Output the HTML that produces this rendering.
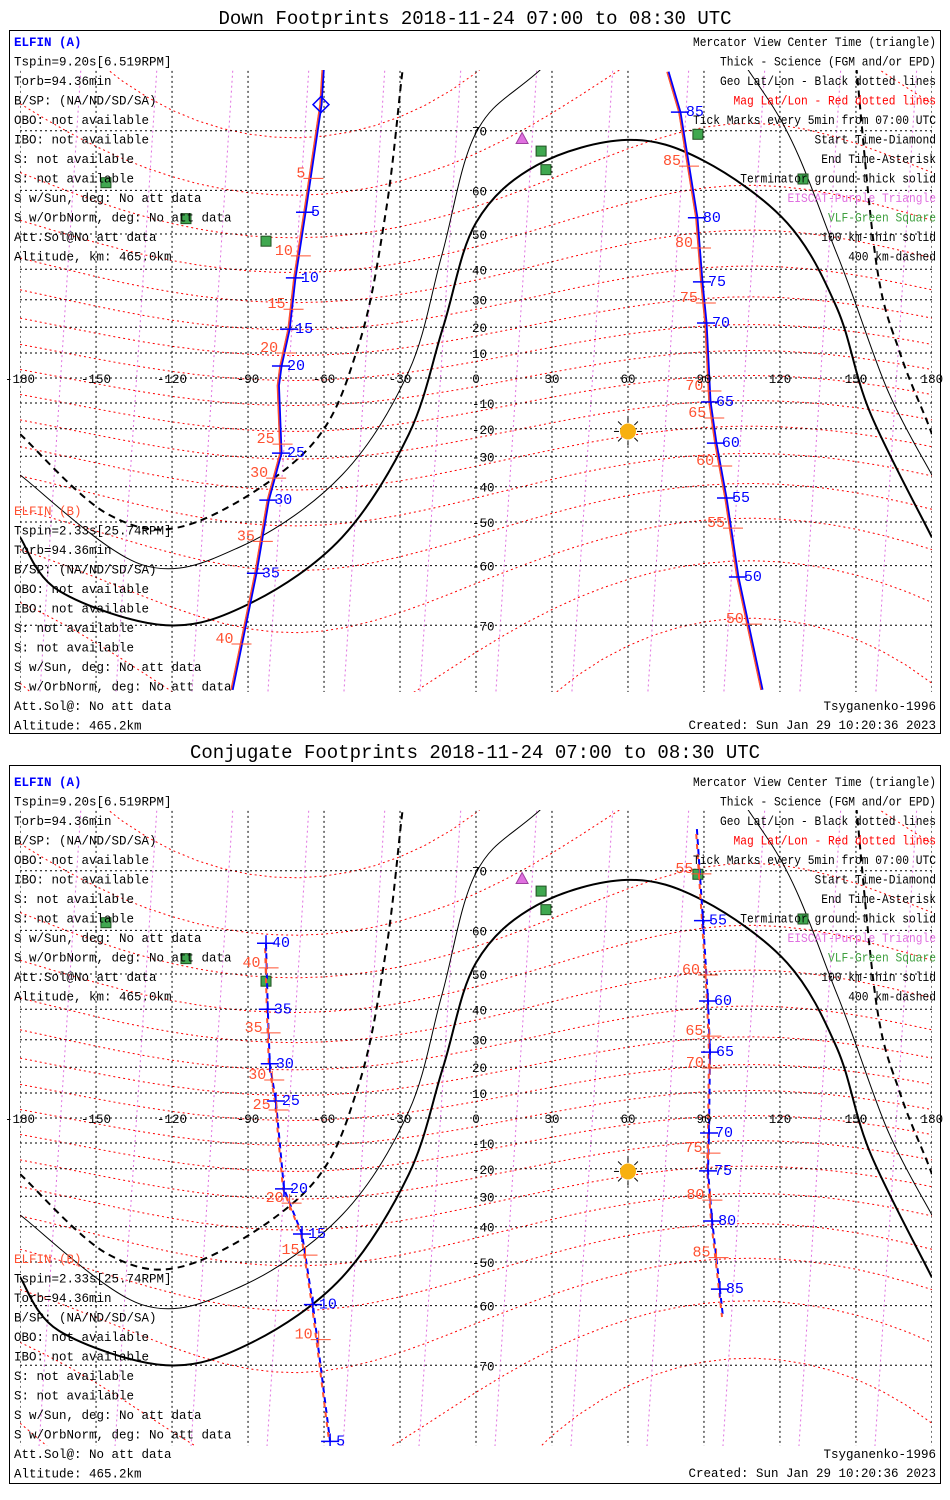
<!DOCTYPE html>
<html><head><meta charset="utf-8"><title>ELFIN Footprints</title>
<style>
html,body{margin:0;padding:0;background:#fff;}
svg{display:block;}
text{font-family:"Liberation Mono",monospace;}
</style></head>
<body>
<svg id="chart" width="950" height="1500" viewBox="0 0 950 1500" xmlns="http://www.w3.org/2000/svg">
<defs>
<clipPath id="mapclip1"><rect x="20" y="70" width="912" height="622"/></clipPath>
<clipPath id="mapclip2"><rect x="20" y="810" width="912" height="636"/></clipPath>
</defs>
<rect x="9.5" y="30.5" width="931" height="703" fill="none" stroke="#000"/>
<rect x="9.5" y="765.5" width="931" height="718" fill="none" stroke="#000"/>
<text x="475" y="24" font-size="19" text-anchor="middle">Down Footprints 2018-11-24 07:00 to 08:30 UTC</text>
<text x="475" y="758" font-size="19" text-anchor="middle">Conjugate Footprints 2018-11-24 07:00 to 08:30 UTC</text>
</svg>
<script>
// ---- data ----
const lonTicks=[-180,-150,-120,-90,-60,-30,0,30,60,90,120,150,180];
const latTicks=[70,60,50,40,30,20,10,-10,-20,-30,-40,-50,-60,-70];
const magLats=[-80,-70,-60,-50,-40,-30,-20,-10,0,10,20,30,40,50,60,70,80];
const magLons=[-165,-135,-105,-75,-45,-15,15,45,75,105,135,165];
// terminator ground (thick)
const termLon=[-180,-164.6,-122.4,-88.4,-52.9,-26.5,-13,0,24.1,59.6,89.6,122.8,142.5,155.5,180];
const termLat=[-53.8,-64.7,-70.0,-66.6,-53.8,-22,20,52.8,64.7,68.7,65.5,52.8,27,-13.6,-53.8];
// 100 km (thin)
const t100Lon=[-180,-131.9,-92.4,-52.9,-26.5,-13.4,0,24.1,70,116,142.5,162.3,180];
const t100Lat=[-36.3,-59.8,-55.8,-36.3,2.8,44.5,69.7,76.6,83,73.6,44.5,-4.4,-36.3];
// 400 km (dashed)
const t400LonA=[-180,-144.9,-112.1,-65.9,-46.2,-35.5,-29.2,-27];
const t400LatA=[-22,-48.1,-50.4,-27,13.6,55.8,76.4,80];
const t400LonB=[149,150.4,158.3,167.4,178,180];
const t400LatB=[80,76.5,40.4,10,-17,-22];
// sites
const vlfLon=[-146.1,-114.5,-82.9,25.7,27.6,87.6,129.1];
const vlfLat=[61.5,53.8,48.1,67,63.9,69.5,62.2];
const eiscatLon=[15.8,18.2];
const eiscatLat=[77.6,68.9];
const sunLon=60, sunLat=-21;
// tracks: down footprints
const dA_lon=[-60,-61.2,-67.5,-71.5,-73.8,-77,-78,-77,-82,-86.9,-96.3];
const dA_lat=[78,73.3,55.3,37.3,19.3,4.8,-3,-28.9,-44,-61.5,-77.2];
const dA_tickIdx=[2,3,4,5,7,8,9];
const dA_tickLbl=["5","10","15","20","25","30","35"];
const dA_redLat=[62.5,44.3,27,10.4,-25.3,-37,-54.5,-72.3];
const dA_redLbl=["5","10","15","20","25","30","35","40"];
const dB_lon=[75.8,80.5,87.2,89.2,90.8,92.4,94.7,98.7,103.4,112.9];
const dB_lat=[76.7,72.4,54,36,21.6,-9.6,-25.3,-43.4,-62.2,-77.2];
const dB_tickIdx=[1,2,3,4,5,6,7,8];
const dB_tickLbl=["85","80","75","70","65","60","55","50"];
const dB_redLat=[64.7,46.5,29.2,-4.8,-15.5,-33,-51.3,-69.7];
const dB_redLbl=["85","80","75","70","65","60","55","50"];
// tracks: conjugate footprints
const cA_lon=[-82.9,-82.2,-81.4,-79,-75.8,-68.7,-64.4,-57.6];
const cA_lat=[57.3,40,21.3,6.8,-27.4,-42.2,-59.8,-78.2];
const cA_tickIdx=[0,1,2,3,4,5,6,7];
const cA_tickLbl=["40","35","30","25","20","15","10","5"];
const cA_redLat=[51.8,32.7,15.5,3.6,-32,-47.9,-66];
const cA_redLbl=["40","35","30","25","20","15","10"];
const cB_lon=[87.2,89.6,91.6,92.4,92,91.6,93.2,96.3,97.5];
const cB_lat=[75,61.9,42.5,25.6,-6,-20.8,-38.2,-56.5,-62.2];
const cB_tickIdx=[1,2,3,4,5,6,7];
const cB_tickLbl=["55","60","65","70","75","80","85"];
const cB_redLat=[69.7,50,31.6,20.1,-13.6,-31,-48.6];
const cB_redLbl=["55","60","65","70","75","80","85"];

const leftA=["Tspin=9.20s[6.519RPM]","Torb=94.36min","B/SP: (NA/ND/SD/SA)","OBO: not available","IBO: not available","S: not available","S: not available","S w/Sun, deg: No att data","S w/OrbNorm, deg: No att data","Att.Sol@No att data","Altitude, km: 465.0km"];
const leftB=["Tspin=2.33s[25.74RPM]","Torb=94.36min","B/SP: (NA/ND/SD/SA)","OBO: not available","IBO: not available","S: not available","S: not available","S w/Sun, deg: No att data","S w/OrbNorm, deg: No att data","Att.Sol@: No att data","Altitude: 465.2km"];
const legendLines=["Mercator View Center Time (triangle)","Thick - Science (FGM and/or EPD)","Geo Lat/Lon - Black dotted lines","Mag Lat/Lon - Red dotted lines","Tick Marks every 5min from 07:00 UTC","Start Time-Diamond","End Time-Asterisk","Terminator ground-thick solid","EISCAT-Purple Triangle","VLF-Green Square","100 km-thin solid","400 km-dashed"];
const legendColors=["#000","#000","#000","#ff0000","#000","#000","#000","#000","#e070e0","#40a040","#000","#000"];

// ---- helpers ----
const NS="http://www.w3.org/2000/svg";
const svg=document.getElementById('chart');
const KX=2.533, X0=476, KY=142.5;
function X(lon){return X0+lon*KX;}
function Y(lat,off){const r=lat*Math.PI/180;return off+378-KY*Math.log(Math.tan(Math.PI/4+r/2));}
function mk(tag,attrs,parent){const e=document.createElementNS(NS,tag);for(const k in attrs)e.setAttribute(k,attrs[k]);(parent||svg).appendChild(e);return e;}
function pts(lons,lats,off){return lons.map((l,i)=>X(l).toFixed(1)+","+Y(lats[i],off).toFixed(1)).join(" ");}
function smooth(lons,lats,off){
  const P=lons.map((l,i)=>[X(l),Y(lats[i],off)]);
  let d="M"+P[0][0].toFixed(1)+","+P[0][1].toFixed(1);
  for(let i=0;i<P.length-1;i++){
    const p0=P[Math.max(0,i-1)],p1=P[i],p2=P[i+1],p3=P[Math.min(P.length-1,i+2)];
    const c1=[p1[0]+(p2[0]-p0[0])/6,p1[1]+(p2[1]-p0[1])/6];
    const c2=[p2[0]-(p3[0]-p1[0])/6,p2[1]-(p3[1]-p1[1])/6];
    d+=" C"+c1[0].toFixed(1)+","+c1[1].toFixed(1)+" "+c2[0].toFixed(1)+","+c2[1].toFixed(1)+" "+p2[0].toFixed(1)+","+p2[1].toFixed(1);
  }
  return d;
}
function interpLon(lons,lats,lat){
  for(let i=0;i<lats.length-1;i++){const a=lats[i],b=lats[i+1];
    if((lat<=a&&lat>=b)||(lat>=a&&lat<=b)){const t=(lat-a)/(b-a||1);return lons[i]+t*(lons[i+1]-lons[i]);}}
  return lons[lons.length-1];
}

function drawPanel(off, offB, clipId, tracks, dashed){
  const g=mk('g',{'clip-path':'url(#'+clipId+')'});
  
  
  magLats.forEach(m=>{
    const ls=[],la=[];
    for(let lon=-180;lon<=180;lon+=10){ls.push(lon);la.push(Math.max(-85,Math.min(85,m-11*Math.cos((lon+72)*Math.PI/180))));}
    const p=mk('polyline',{points:pts(ls,la,off),fill:'none',stroke:'#ff0000','stroke-width':1,'stroke-dasharray':'2 3'},g);
    
    
  });
  magLons.forEach(L=>{
    const p=mk('line',{x1:X(L+10),y1:Y(80,off),x2:X(L-8),y2:Y(-80,off),stroke:'#e070e0','stroke-width':1,'stroke-dasharray':'2 3'},g);
    
    
  });
  latTicks.concat([0]).forEach(lt=>{
    const l=mk('line',{x1:20,x2:932,y1:Y(lt,off),y2:Y(lt,off),stroke:'#000','stroke-width':1,'stroke-dasharray':'2 3'},g);
    
    
  });
  lonTicks.forEach(ln=>{
    const l=mk('line',{x1:X(ln),x2:X(ln),y1:Y(80,off),y2:Y(-80,off),stroke:'#000','stroke-width':1,'stroke-dasharray':'2 3'},g);
    
    
  });
  let t=mk('path',{d:smooth(termLon,termLat,off),fill:'none',stroke:'#000','stroke-width':2},g);
  
  
  t=mk('path',{d:smooth(t100Lon,t100Lat,off),fill:'none',stroke:'#000','stroke-width':1},g);
  
  
  t=mk('path',{d:smooth(t400LonA,t400LatA,off),fill:'none',stroke:'#000','stroke-width':2,'stroke-dasharray':'7 5'},g);
  
  
  t=mk('path',{d:smooth(t400LonB,t400LatB,off),fill:'none',stroke:'#000','stroke-width':2,'stroke-dasharray':'7 5'},g);
  
  
  vlfLon.forEach((l,i)=>{
    const r=mk('rect',{x:X(l)-5,y:Y(vlfLat[i],off)-5,width:10,height:10,fill:'#40a850',stroke:'#205020','stroke-width':1},g);
    
    
  });
  eiscatLon.forEach((l,i)=>{
    const x=X(l),y=Y(eiscatLat[i],off);
    const p=mk('polygon',{points:(x)+","+(y-6)+" "+(x-6)+","+(y+5)+" "+(x+6)+","+(y+5),fill:'#e070e0',stroke:'#a040a0'},g);
    
    
  });
  const sx=X(sunLon),sy=Y(sunLat,off);
  const sg=mk('g',{},g);
  
  
  for(let a=0;a<360;a+=45){const r=a*Math.PI/180;mk('line',{x1:sx+9*Math.cos(r),y1:sy+9*Math.sin(r),x2:sx+14*Math.cos(r),y2:sy+14*Math.sin(r),stroke:'#000'},sg);}
  mk('circle',{cx:sx,cy:sy,r:8,fill:'#f8b010'},sg);
  tracks.forEach(tr=>{
    const tg=mk('g',{},g);
    
    
    const pp=pts(tr.lon,tr.lat,off);
    const blue=mk('polyline',{points:pp,fill:'none',stroke:'#0000ff','stroke-width':dashed?2:3,'stroke-dasharray':dashed?'6 4':'none'},tg);
    
    
    const red=mk('polyline',{points:pp,fill:'none',stroke:'#ff5030','stroke-width':dashed?2:1.5,'stroke-dasharray':dashed?'5 5':'none','stroke-dashoffset':dashed?5:0,transform:'translate(-1,0)'},tg);
    
    
    tr.tickIdx.forEach((ix,k)=>{
      const x=X(tr.lon[ix]),y=Y(tr.lat[ix],off);
      mk('line',{x1:x-9,x2:x+9,y1:y,y2:y,stroke:'#0000ff','stroke-width':1.5},tg);
      if(dashed) mk('line',{x1:x,x2:x,y1:y-8,y2:y+8,stroke:'#0000ff','stroke-width':1.5},tg);
      const tx=mk('text',{x:x+6,y:y+4,'font-size':15,fill:'#0000ff'},tg);
      
      
      tx.textContent=tr.tickLbl[k];
    });
    tr.redLat.forEach((lt,k)=>{
      const x=X(interpLon(tr.lon,tr.lat,lt)),y=Y(lt,off);
      mk('line',{x1:x-8,x2:x+12,y1:y+1,y2:y+1,stroke:'#ff5030','stroke-width':1},tg);
      if(dashed) mk('line',{x1:x,x2:x,y1:y-8,y2:y+8,stroke:'#ff5030','stroke-width':1},tg);
      const tx=mk('text',{x:x-6,y:y,'font-size':15,fill:'#ff5030','text-anchor':'end'},tg);
      
      
      tx.textContent=tr.redLbl[k];
    });
    if(tr.start){
      const x=X(tr.lon[1]),y=Y(tr.lat[1],off);
      const d=mk('polygon',{points:x+","+(y-8)+" "+(x+8)+","+y+" "+x+","+(y+8)+" "+(x-8)+","+y,fill:'none',stroke:'#0000ff','stroke-width':1.5},tg);
      
      
    }
  });
  lonTicks.forEach(ln=>{
    const tx=mk('text',{x:X(ln),y:Y(0,off)+5,'font-size':12.5,'text-anchor':'middle',fill:'#000'});
    
    
    tx.textContent=String(ln);
  });
  latTicks.forEach(lt=>{
    const tx=mk('text',{x:X(0)-4,y:Y(lt,off)+5,'font-size':12.5,fill:'#000'});
    
    
    tx.textContent=String(lt);
  });
  const y0=off+46;
  let tx=mk('text',{x:14,y:y0,'font-size':12.5,'font-weight':'bold',fill:'#0000ff'});
  
  
  tx.textContent="ELFIN (A)";
  leftA.forEach((s,i)=>{
    const t=mk('text',{x:14,y:y0+19.5*(i+1),'font-size':12.5,fill:'#000'});
    
    
    t.textContent=s;
  });
  const yb=offB+515;
  tx=mk('text',{x:14,y:yb,'font-size':12.5,fill:'#ff5030'});
  
  
  tx.textContent="ELFIN (B)";
  leftB.forEach((s,i)=>{
    const t=mk('text',{x:14,y:yb+19.5*(i+1),'font-size':12.5,fill:'#000'});
    
    
    t.textContent=s;
  });
  legendLines.forEach((s,i)=>{
    const t=mk('text',{x:936,y:y0+19.5*i,'font-size':12.5,'text-anchor':'end',fill:legendColors[i],textLength:s.length*6.75,lengthAdjust:'spacingAndGlyphs'});
    
    
    t.textContent=s;
  });
  tx=mk('text',{x:936,y:offB+710,'font-size':12.5,'text-anchor':'end',fill:'#000'});
  
  
  tx.textContent="Tsyganenko-1996";
  tx=mk('text',{x:936,y:offB+729,'font-size':12.5,'text-anchor':'end',fill:'#000'});
  
  
  tx.textContent="Created: Sun Jan 29 10:20:36 2023";
}

drawPanel(0,0,'mapclip1',[
  {name:'down-track-a',lon:dA_lon,lat:dA_lat,tickIdx:dA_tickIdx,tickLbl:dA_tickLbl,redLat:dA_redLat,redLbl:dA_redLbl,start:true},
  {name:'down-track-b',lon:dB_lon,lat:dB_lat,tickIdx:dB_tickIdx,tickLbl:dB_tickLbl,redLat:dB_redLat,redLbl:dB_redLbl}
],false);
drawPanel(740,748,'mapclip2',[
  {name:'conjugate-track-a',lon:cA_lon,lat:cA_lat,tickIdx:cA_tickIdx,tickLbl:cA_tickLbl,redLat:cA_redLat,redLbl:cA_redLbl},
  {name:'conjugate-track-b',lon:cB_lon,lat:cB_lat,tickIdx:cB_tickIdx,tickLbl:cB_tickLbl,redLat:cB_redLat,redLbl:cB_redLbl}
],true);
</script>
</body></html>
